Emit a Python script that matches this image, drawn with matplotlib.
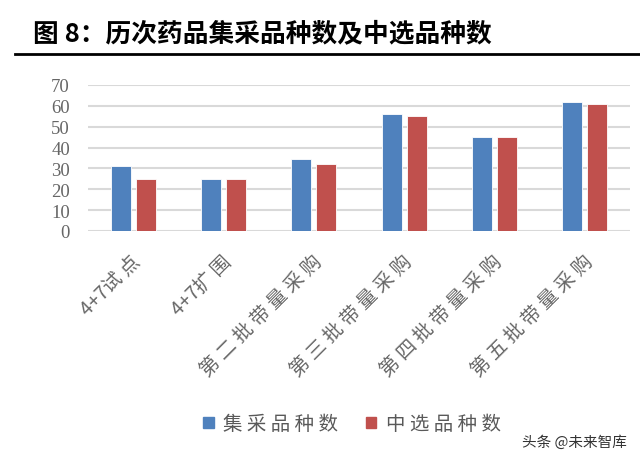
import numpy as np
import matplotlib
matplotlib.use("Agg")
import matplotlib.pyplot as plt
from matplotlib.patches import Patch

plt.rcParams['font.family'] = ['Noto Sans CJK SC', 'DejaVu Sans']

# data
categories = ["4+7试点", "4+7扩围", "第二批带量采购", "第三批带量采购", "第四批带量采购", "第五批带量采购"]
collected = [31, 25, 34.5, 56, 45, 62]
selected = [25, 25, 32, 55, 45, 61]
series_names = ["集采品种数", "中选品种数"]
yticks = [0, 10, 20, 30, 40, 50, 60, 70]

BLUE = "#4F81BD"
RED = "#C0504D"
GRAY = "#595959"


def spaced(s):
    # the source uses wide letter spacing between CJK glyphs
    out = s[0]
    for a, b in zip(s, s[1:]):
        if ord(a) > 0x2E80 and ord(b) > 0x2E80:
            out += " "
        out += b
    return out


fig = plt.figure(figsize=(6.4, 4.64), dpi=100)
ax = fig.add_axes([88 / 640, 1 - 232 / 464, 542 / 640, 146 / 464])

x = np.arange(len(categories))
w = 0.22
off = 0.139
ax.bar(x - off, collected, w, color=BLUE, edgecolor="white", linewidth=0.6, zorder=3)
ax.bar(x + off, selected, w, color=RED, edgecolor="white", linewidth=0.6, zorder=3)

ax.set_xlim(-0.5, len(categories) - 0.5)
ax.set_ylim(0, 70)
ax.set_yticks(yticks)
ax.set_yticklabels([str(v) for v in yticks], family="Liberation Serif", fontsize=13.5, color="#666666")
ax.yaxis.grid(True, color="#D9D9D9", linewidth=1.5, zorder=0)
ax.tick_params(axis="y", length=0, pad=13)
ax.tick_params(axis="x", length=0, pad=14)
for s in ax.spines.values():
    s.set_visible(False)

# rotated category labels, top-right end just under each group
ax.set_xticks(x - 0.03)
ax.set_xticklabels([spaced(c) for c in categories], rotation=45, ha="right", va="top",
                   rotation_mode="anchor", fontsize=14, color="#666666")

# title and rule
fig.text(33 / 640, 1 - 34 / 464, "图 8：历次药品集采品种数及中选品种数", fontsize=18.5,
         fontweight="bold", va="center", ha="left", color="black")
fig.add_artist(plt.Line2D([15 / 640, 1], [1 - 55 / 464, 1 - 55 / 464], color="black", linewidth=2))

handles = [Patch(color=BLUE), Patch(color=RED)]
fig.legend(handles, [spaced(n) for n in series_names], loc="center",
           bbox_to_anchor=(352 / 640, 1 - 425 / 464),
           ncol=2, frameon=False, fontsize=14, handlelength=0.55, handleheight=0.55,
           columnspacing=1.4, handletextpad=0.5, labelcolor=GRAY)

fig.text(627 / 640, 1 - 443 / 464, "头条 @未来智库", fontsize=10.5, ha="right", va="center", color="#333333")

fig.savefig("out.png", dpi=100)
